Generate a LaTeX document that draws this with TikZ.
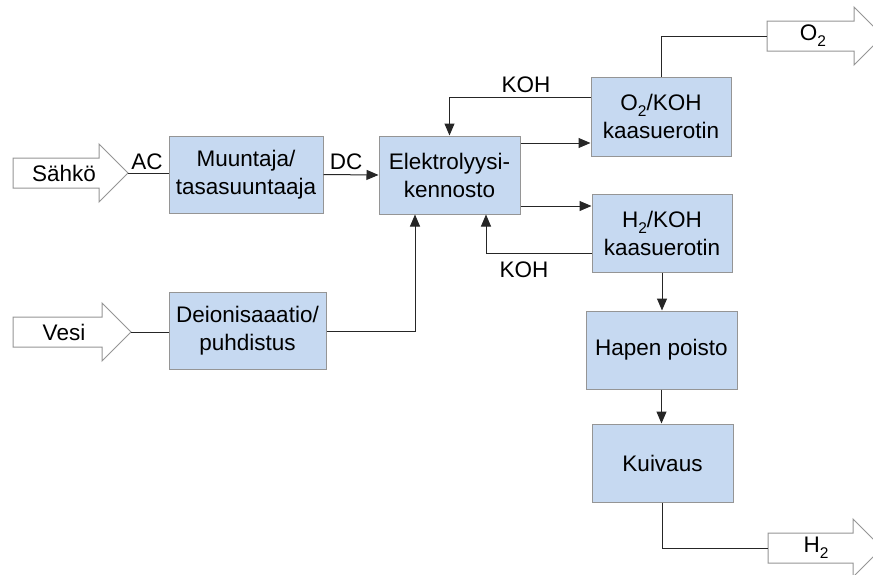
\documentclass[tikz,border=0pt]{standalone}
\usepackage{fontspec}
\setmainfont{Liberation Sans}
\usetikzlibrary{arrows.meta}
\definecolor{boxfill}{HTML}{C6D9F1}
\definecolor{boxedge}{HTML}{959595}
\definecolor{linecol}{HTML}{262626}
% lowered subscript digit
\newcommand{\lowsub}[1]{\raisebox{-6pt}{\fontsize{15.5}{15.5}\selectfont #1}}
\begin{document}
\begin{tikzpicture}[x=1pt,y=-1pt,
  every node/.style={font=\fontsize{22.5}{28}\selectfont, inner sep=0pt},
  block/.style={draw=boxedge, fill=boxfill, line width=1pt, align=center},
  flow/.style={draw=linecol, line width=1pt},
  arr/.style={flow, -{Triangle[length=12pt,width=10pt]}},
  bigarrow/.style={draw=boxedge, fill=white, line width=1pt, line join=miter}]
\useasboundingbox (0,0) rectangle (873,574);
\clip (0,0) rectangle (873,574);

% process blocks
\node[block, minimum width=154, minimum height=77] (muunt) at (246,174.5) {Muuntaja/\\tasasuuntaaja};
\node[block, minimum width=141, minimum height=78] (elek) at (449.5,175) {Elektrolyysi-\\kennosto};
\node[block, minimum width=140, minimum height=79] (o2box) at (661,116.5) {O\lowsub{2}/KOH\\kaasuerotin};
\node[block, minimum width=140, minimum height=78] (h2box) at (662,233) {H\lowsub{2}/KOH\\kaasuerotin};
\node[block, minimum width=157, minimum height=77] (deion) at (247.5,331) {Deionisaaatio/\\puhdistus};
\node[block, minimum width=151, minimum height=78] (hapen) at (661.5,350) {Hapen poisto};
\node[block, minimum width=141, minimum height=78] (kuiv) at (662.5,463) {Kuivaus};

% inputs
\draw[bigarrow] (13,158) -- (99,158) -- (99,144) -- (128,173) -- (99,202) -- (99,188) -- (13,188) -- cycle;
\coordinate (sahkotip) at (128,173);
\node (sahko) at (64,173) {Sähkö};
\draw[bigarrow] (13,317) -- (102,317) -- (102,303) -- (131,332) -- (102,361) -- (102,347) -- (13,347) -- cycle;
\coordinate (vesitip) at (131,332);
\node (vesi) at (64,332) {Vesi};

% outputs
\draw[bigarrow] (767,21) -- (854,21) -- (854,7) -- (883,36) -- (854,65) -- (854,51) -- (767,51) -- cycle;
\coordinate (o2in) at (767,36);
\node (o2out) at (813,36) {O\lowsub{2}};
\draw[bigarrow] (768,533) -- (853,533) -- (853,519) -- (882,548) -- (853,577) -- (853,563) -- (768,563) -- cycle;
\coordinate (h2in) at (768,548);
\node (h2out) at (816,548) {H\lowsub{2}};

% connection points
\coordinate (e1) at ([yshift=32pt]elek.east);
\coordinate (e2) at ([yshift=-31pt]elek.east);
\coordinate (k1) at ([yshift=19.5pt]o2box.west);
\coordinate (k2) at ([yshift=-20pt]h2box.west);
\coordinate (k2t) at ([xshift=36.5pt]elek.south);
\coordinate (d1) at ([xshift=-34.5pt]elek.south);

% connectors
\draw[flow] (sahkotip) -- (sahkotip -| muunt.west);
\draw[arr] (muunt.east) -- (elek.west);
\draw[flow] (vesitip) -- (vesitip -| deion.west);
\draw[arr] (deion.east) -| (d1);
\draw[arr] (e1) -- (e1 -| o2box.west);
\draw[arr] (e2) -- (e2 -| h2box.west);
\draw[arr] (k1) -| (elek.north);
\draw[arr] (k2) -| (k2t);
\draw[flow] (o2box.north) |- (o2in);
\draw[arr] (h2box.south) -- (h2box.south |- hapen.north);
\draw[arr] (hapen.south) -- (hapen.south |- kuiv.north);
\draw[flow] (kuiv.south) |- (h2in);

% labels
\node (ac) at (147,162) {AC};
\node (dc) at (346,162) {DC};
\node (koh1) at (526,85) {KOH};
\node (koh2) at (524,270) {KOH};
\end{tikzpicture}
\end{document}
